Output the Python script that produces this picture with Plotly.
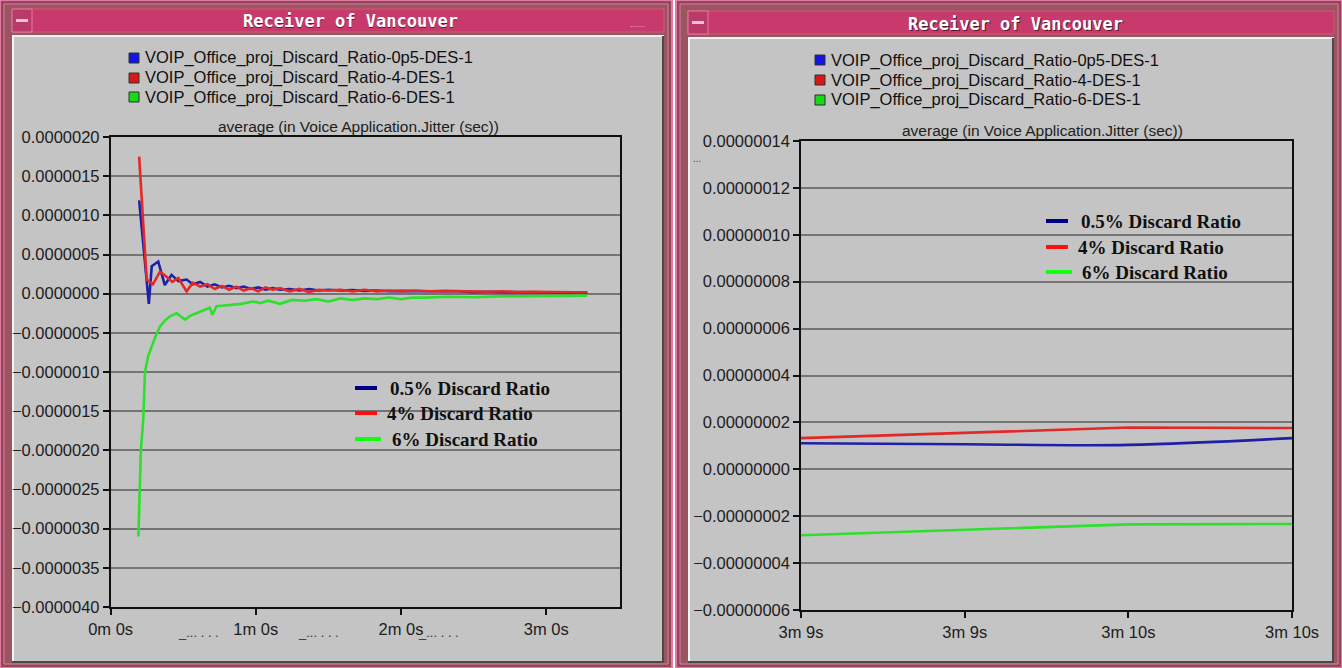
import plotly.graph_objects as go

W, H = 1342, 668

# ---- series names ----
series_names = [
    "VOIP_Office_proj_Discard_Ratio-0p5-DES-1",
    "VOIP_Office_proj_Discard_Ratio-4-DES-1",
    "VOIP_Office_proj_Discard_Ratio-6-DES-1",
]
ratio_labels = ["0.5% Discard Ratio", "4% Discard Ratio", "6% Discard Ratio"]

# ---- full run (seconds, jitter in microseconds) ----
t_blue = [11.8, 15.8, 17, 19.7, 22.4, 25.2, 28, 31.4, 34, 37, 40, 43, 46, 49, 52, 55, 58, 61,
          64, 67, 70, 74, 78, 82, 86, 90, 95, 100, 105, 110, 115, 120, 126, 132, 138, 144,
          150, 156, 162, 168, 174, 180, 186, 192, 197]
v_blue = [1.19, -0.13, 0.35, 0.41, 0.11, 0.24, 0.16, 0.18, 0.12, 0.15, 0.09, 0.12, 0.08, 0.10,
          0.07, 0.09, 0.06, 0.08, 0.05, 0.07, 0.05, 0.06, 0.04, 0.06, 0.04, 0.05, 0.04, 0.045,
          0.035, 0.04, 0.03, 0.035, 0.03, 0.03, 0.025, 0.03, 0.02, 0.025, 0.02, 0.02, 0.015,
          0.012, 0.011, 0.012, 0.013]

t_red = [11.8, 14.9, 17.5, 20.4, 23, 25.5, 28, 31.4, 34, 37, 40, 43, 46, 49, 52, 55, 58, 61,
         64, 67, 70, 74, 78, 82, 86, 90, 95, 100, 105, 110, 115, 120, 126, 132, 138, 144,
         150, 156, 162, 168, 174, 180, 186, 192, 197]
v_red = [1.75, 0.18, 0.12, 0.28, 0.22, 0.15, 0.20, 0.03, 0.14, 0.09, 0.12, 0.06, 0.10, 0.05,
         0.09, 0.04, 0.07, 0.03, 0.08, 0.05, 0.07, 0.03, 0.06, 0.02, 0.05, 0.04, 0.05, 0.03,
         0.05, 0.03, 0.04, 0.03, 0.04, 0.03, 0.035, 0.03, 0.03, 0.025, 0.03, 0.02, 0.025,
         0.02, 0.02, 0.018, 0.018]

t_green = [11.5, 12.5, 13.5, 14.2, 15.5, 17, 18.5, 20.4, 22.5, 24.5, 27.3, 30.7, 33, 35.5, 38,
           41, 42, 43.8, 47, 50.6, 54, 58.9, 62, 65, 70, 75, 80, 85, 90, 95, 100, 105, 110,
           115, 120, 125, 130, 140, 150, 160, 170, 180, 190, 197]
v_green = [-3.10, -2.0, -1.6, -1.0, -0.8, -0.67, -0.55, -0.42, -0.34, -0.29, -0.25, -0.33,
           -0.28, -0.25, -0.22, -0.18, -0.27, -0.16, -0.15, -0.14, -0.13, -0.10, -0.12, -0.09,
           -0.13, -0.08, -0.09, -0.07, -0.10, -0.06, -0.08, -0.06, -0.07, -0.05, -0.07, -0.05,
           -0.05, -0.04, -0.045, -0.035, -0.035, -0.03, -0.028, -0.025]

# ---- close-up between 3m 9s and 3m 10s (jitter in units of 1e-8 s) ----
t_zoom = [189.0, 189.5, 190.0, 190.5]
z_blue = [1.11, 1.07, 1.04, 1.33]
z_red = [1.33, 1.55, 1.78, 1.76]
z_green = [-2.81, -2.58, -2.35, -2.33]

left_xticks = [0, 60, 120, 180]
left_xtext = ["0m 0s", "1m 0s", "2m 0s", "3m 0s"]
right_xtext = ["3m 9s", "3m 9s", "3m 10s", "3m 10s"]

line_colors = ["#1f1fa8", "#e42828", "#2ee02e"]
key_colors = ["#000088", "#ff1010", "#10ff10"]
swatch_colors = ["#1515e0", "#d81818", "#18d818"]

SANS = "Liberation Sans, Arial, sans-serif"


def px(x):
    return x / W


def py(y):
    return 1 - y / H


fig = go.Figure()

for t, v, c in [(t_blue, v_blue, line_colors[0]), (t_red, v_red, line_colors[1]),
                (t_green, v_green, line_colors[2])]:
    fig.add_trace(go.Scatter(x=t, y=[a * 1e-6 for a in v], mode="lines",
                             line=dict(color=c, width=2.6), xaxis="x", yaxis="y",
                             showlegend=False, hoverinfo="skip"))

for v, c, shp in [(z_blue, line_colors[0], "spline"), (z_red, line_colors[1], "linear"),
                  (z_green, line_colors[2], "linear")]:
    fig.add_trace(go.Scatter(x=t_zoom, y=[a * 1e-8 for a in v], mode="lines",
                             line=dict(color=c, width=2.6, shape=shp), xaxis="x2",
                             yaxis="y2", showlegend=False, hoverinfo="skip"))

tick_font = dict(family=SANS, size=16.5, color="#202020")
axis_common = dict(showline=True, linecolor="#101010", linewidth=1.5, mirror=True,
                   ticks="outside", ticklen=6, tickcolor="#101010", tickwidth=1.5,
                   tickfont=tick_font, zeroline=False, fixedrange=True, automargin=False)

fig.update_layout(
    width=W, height=H,
    margin=dict(l=0, r=0, t=0, b=0, pad=0),
    paper_bgcolor="#ffffff",
    plot_bgcolor="#f0f0f0",
    showlegend=False,
    xaxis=dict(domain=[px(110.6), px(620)], range=[0, 210.5], tickvals=left_xticks,
               ticktext=left_xtext, showgrid=False, anchor="y", **axis_common),
    yaxis=dict(domain=[py(607), py(137)], range=[-4e-6, 2e-6], dtick=5e-7,
               tickformat=".7f", showgrid=True, gridcolor="#747474", gridwidth=1.5,
               anchor="x", **axis_common),
    xaxis2=dict(domain=[px(801), px(1292)], range=[189.0, 190.5], tickvals=t_zoom,
                ticktext=right_xtext, showgrid=False, anchor="y2", **axis_common),
    yaxis2=dict(domain=[py(610), py(141)], range=[-6e-8, 1.4e-7], dtick=2e-8,
                tickformat=".8f", showgrid=True, gridcolor="#747474", gridwidth=1.5,
                anchor="x2", **axis_common),
)

shapes = []
annotations = []


def rect(x0, y0, x1, y1, fill, line=None, lw=0, layer="below"):
    shapes.append(dict(type="rect", xref="paper", yref="paper", x0=px(x0), x1=px(x1),
                       y0=py(y1), y1=py(y0), fillcolor=fill,
                       line=dict(color=line or fill, width=lw), layer=layer))


def hline(x0, x1, y, color, w, layer="above"):
    shapes.append(dict(type="line", xref="paper", yref="paper", x0=px(x0), x1=px(x1),
                       y0=py(y), y1=py(y), line=dict(color=color, width=w), layer=layer))


def vline(x, y0, y1, color, w, layer="below"):
    shapes.append(dict(type="line", xref="paper", yref="paper", x0=px(x), x1=px(x),
                       y0=py(y0), y1=py(y1), line=dict(color=color, width=w), layer=layer))


def text(x, y, s, size, color="#101010", family=SANS, xanchor="left", bold=False):
    annotations.append(dict(xref="paper", yref="paper", x=px(x), y=py(y),
                            text=f"<b>{s}</b>" if bold else s,
                            showarrow=False, xanchor=xanchor, yanchor="middle",
                            font=dict(size=size, color=color, family=family)))


# ---- two window frames ----
windows = [
    dict(x0=0, x1=672, title_y0=9, title_y1=32, body_y0=36, cx=350, title_cy=21),
    dict(x0=676, x1=1342, title_y0=11, title_y1=34, body_y0=38, cx=1015, title_cy=24),
]
TITLE_FONT = "DejaVu Sans Mono, Liberation Mono, monospace"
for win in windows:
    x0, x1 = win["x0"], win["x1"]
    rect(x0, 0, x1, H, "#8e4a56", "#e47aa6", 2)
    rect(x0 + 4, 4, x1 - 4, H - 4, "#9a5560", "#e47aa6", 1)
    rect(x0 + 12, win["title_y0"], x1 - 8, win["title_y1"], "#c83a6c", "#d8557f", 1)
    rect(x0 + 12, win["title_y0"], x0 + 32, win["title_y1"], "#b83a66", "#e47aa6", 1)
    hline(x0 + 16, x0 + 28, (win["title_y0"] + win["title_y1"]) / 2, "#f0c0d4", 3, layer="below")
    rect(x0 + 12, win["body_y0"], x1 - 8, H - 5, "#c4c4c4", "#c4c4c4", 0)
    hline(x0 + 12, x1 - 8, win["body_y0"], "#f4f4f4", 2, layer="below")
    vline(x0 + 13, win["body_y0"], H - 5, "#f4f4f4", 2)
    vline(x1 - 9, win["body_y0"], H - 5, "#4a4a4a", 2)
    hline(x0 + 12, x1 - 8, H - 6, "#4a4a4a", 2, layer="below")
    text(win["cx"] + 1, win["title_cy"] + 1, "Receiver of Vancouver", 17, color="#5a1a30",
         family=TITLE_FONT, xanchor="center", bold=True)
    text(win["cx"], win["title_cy"], "Receiver of Vancouver", 17, color="#ffffff",
         family=TITLE_FONT, xanchor="center", bold=True)

text(628, 24, "......", 9, color="#f0b0c8")

# ---- series key at the top of each window ----
legend_rows = [
    dict(sx=129, tx=143, ys=[58, 78, 97]),
    dict(sx=815, tx=829, ys=[60, 80, 100]),
]
for row in legend_rows:
    for name, col, y in zip(series_names, swatch_colors, row["ys"]):
        rect(row["sx"], y - 5, row["sx"] + 10, y + 5, col, "#303030", 1, layer="above")
        text(row["tx"], y, name, 16.5, color="#101010")

# ---- axis captions ----
caption = "average (in Voice Application.Jitter (sec))"
text(358, 127, caption, 15.5, color="#202020", xanchor="center")
text(1042, 130, caption, 15.5, color="#202020", xanchor="center")
text(697, 158, "...", 10, color="#404040", xanchor="center")

# overlapping half-minute labels on the full-run axis
for x in [198, 318, 438]:
    text(x, 632, "_... . . .", 13, color="#303030", xanchor="center")

# ---- in-plot line keys ----
keys = [
    dict(lx0=355, lx1=377, tx=[388, 385, 390], ys=[388, 413, 439]),
    dict(lx0=1046, lx1=1068, tx=[1079, 1076, 1080], ys=[221, 247, 272]),
]
for k in keys:
    for lab, col, x_t, y in zip(ratio_labels, key_colors, k["tx"], k["ys"]):
        hline(k["lx0"], k["lx1"] + (4 if col == key_colors[2] else 0), y, col, 4)
        text(x_t, y, lab, 19, color="#101010",
             family="Liberation Serif, Times New Roman, serif", bold=True)

fig.update_layout(shapes=shapes, annotations=annotations)
fig.write_html("out.html")
